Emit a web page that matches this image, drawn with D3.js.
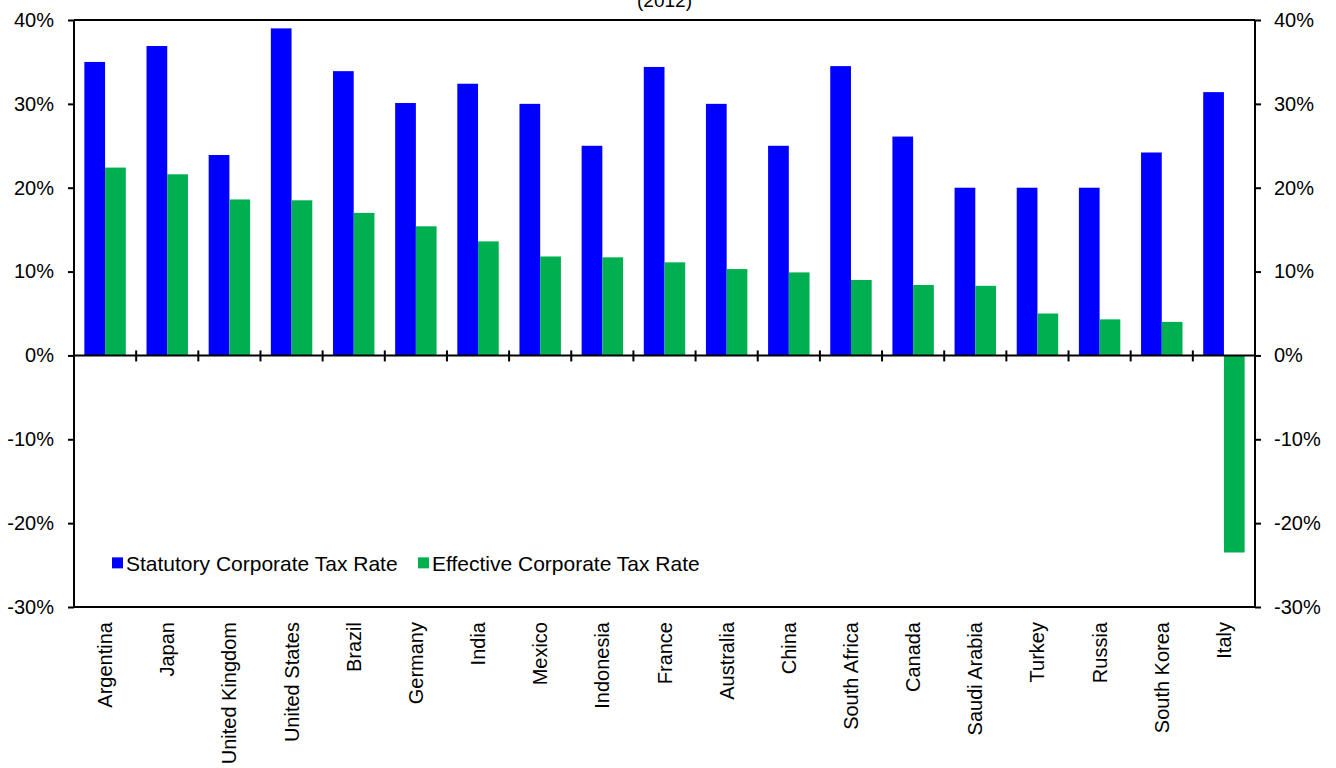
<!DOCTYPE html>
<html>
<head>
<meta charset="utf-8">
<script src="https://cdn.jsdelivr.net/npm/d3@7"></script>
<style>
  body { margin: 0; background: #fff; }
  text { font-family: "Liberation Sans", Arial, sans-serif; fill: #000; }
</style>
</head>
<body>
<div id="chart"></div>
<script>
var countries = ["Argentina", "Japan", "United Kingdom", "United States", "Brazil", "Germany", "India",
    "Mexico", "Indonesia", "France", "Australia", "China", "South Africa", "Canada", "Saudi Arabia",
    "Turkey", "Russia", "South Korea", "Italy"];
var statutory = [35, 36.9, 23.9, 39.0, 33.9, 30.1, 32.4, 30, 25, 34.4, 30, 25, 34.5, 26.1, 20, 20, 20, 24.2, 31.4];
var effective = [22.4, 21.6, 18.6, 18.5, 17.0, 15.4, 13.6, 11.8, 11.7, 11.1, 10.3, 9.9, 9.0, 8.4, 8.3, 5.0, 4.3, 4.0, -23.5];
var seriesNames = ["Statutory Corporate Tax Rate", "Effective Corporate Tax Rate"];
var seriesColors = ["#0000ff", "#00b050"];
var yTicks = [-30, -20, -10, 0, 10, 20, 30, 40];

var margin = { top: 20, right: 81, bottom: 161, left: 74 },
    width = 1336 - margin.left - margin.right,
    height = 768 - margin.top - margin.bottom;

var svg = d3.select("#chart")
    .append("svg")
    .attr("width", width + margin.left + margin.right)
    .attr("height", height + margin.top + margin.bottom)
    .append("g")
    .attr("transform", "translate(" + margin.left + "," + margin.top + ")");

var data = countries.map(function (c, i) {
    return { country: c, values: [statutory[i], effective[i]] };
});

var x = d3.scaleBand().domain(countries).range([0, width]).padding(0);
var xs = d3.scaleBand().domain([0, 1]).range([0, x.bandwidth()]).paddingInner(0).paddingOuter(0.5);
var y = d3.scaleLinear().domain([-30, 40]).range([height, 0]);

// subtitle, mostly cropped at the top
svg.append("text")
    .attr("x", width / 2)
    .attr("y", -13)
    .attr("text-anchor", "middle")
    .style("font-size", "19px")
    .text("(2012)");

// bars
var groups = svg.selectAll(".grp")
    .data(data)
    .enter().append("g")
    .attr("transform", function (d) { return "translate(" + x(d.country) + ",0)"; });

groups.selectAll("rect")
    .data(function (d) { return d.values; })
    .enter().append("rect")
    .attr("x", function (d, i) { return xs(i); })
    .attr("width", xs.bandwidth())
    .attr("y", function (d) { return y(Math.max(0, d)); })
    .attr("height", function (d) { return Math.abs(y(d) - y(0)); })
    .attr("fill", function (d, i) { return seriesColors[i]; });

// frame
svg.append("line").attr("x1", 0).attr("x2", width).attr("y1", 0).attr("y2", 0)
    .style("stroke", "#000").style("stroke-width", 2);
svg.append("line").attr("x1", 0).attr("x2", width).attr("y1", height).attr("y2", height)
    .style("stroke", "#000").style("stroke-width", 2);

// y axes
var yl = svg.append("g")
    .call(d3.axisLeft(y).tickValues(yTicks).tickSize(6).tickPadding(14).tickFormat(function (d) { return d + "%"; }));
var yr = svg.append("g")
    .attr("transform", "translate(" + width + ",0)")
    .call(d3.axisRight(y).tickValues(yTicks).tickSize(6).tickPadding(13).tickFormat(function (d) { return d + "%"; }));
[yl, yr].forEach(function (a) {
    a.select(".domain").attr("stroke", "#000").attr("stroke-width", 2).attr("d", "M0,0V" + height);
    a.selectAll(".tick line").attr("stroke", "#000").attr("stroke-width", 2);
    a.selectAll(".tick text").style("font-size", "20px").style("font-family", "Liberation Sans, Arial, sans-serif");
});

// zero line with category ticks
svg.append("line").attr("x1", 0).attr("x2", width).attr("y1", y(0)).attr("y2", y(0))
    .style("stroke", "#000").style("stroke-width", 2);
svg.selectAll(".ctick")
    .data(countries.slice(1))
    .enter().append("line")
    .attr("x1", function (d) { return x(d); })
    .attr("x2", function (d) { return x(d); })
    .attr("y1", y(0) - 5)
    .attr("y2", y(0) + 6)
    .style("stroke", "#000")
    .style("stroke-width", 2);

// category labels
svg.selectAll(".clabel")
    .data(countries)
    .enter().append("text")
    .attr("transform", function (d) {
        return "translate(" + (x(d) + x.bandwidth() / 2) + "," + (height + 15) + ") rotate(-90)";
    })
    .attr("text-anchor", "end")
    .attr("dy", "0.35em")
    .style("font-size", "20px")
    .text(function (d) { return d; });

// legend
var legX = [38, 344];
seriesNames.forEach(function (name, i) {
    svg.append("rect")
        .attr("x", legX[i])
        .attr("y", y(-24.2) - 1)
        .attr("width", 11)
        .attr("height", 11)
        .attr("fill", seriesColors[i]);
    svg.append("text")
        .attr("x", legX[i] + 14)
        .attr("y", y(-24.2) + 13)
        .style("font-size", "21px")
        .text(name);
});
</script>
</body>
</html>
